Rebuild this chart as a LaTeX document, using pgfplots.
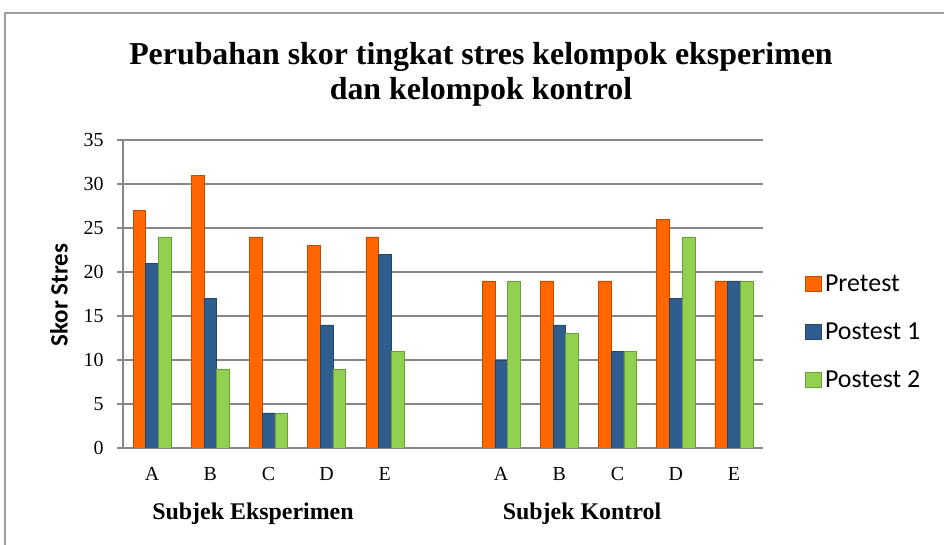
\documentclass[border=0pt]{standalone}
\usepackage{fontspec}
\setmainfont{Liberation Serif}
\newfontfamily\calibri{Carlito}
\usepackage{pgfplots}
\pgfplotsset{compat=1.18}
\definecolor{cOr}{HTML}{FF6600}
\definecolor{cBl}{HTML}{2F5D8E}
\definecolor{cGr}{HTML}{92D050}
\definecolor{gridc}{HTML}{878787}
\begin{document}
\begin{tikzpicture}[x=1bp,y=1bp]
\path[use as bounding box] (0,0) rectangle (944,545);
\draw[gridc!80, line width=1.5bp] (5,-5) -- (5,532) -- (950,532);
\node[font=\fontsize{32}{35}\selectfont\bfseries, anchor=base] at (481,480) {Perubahan skor tingkat stres kelompok eksperimen};
\node[font=\fontsize{32}{35}\selectfont\bfseries, anchor=base] at (481,445) {dan kelompok kontrol};
\node[font=\calibri\fontsize{25}{28}\selectfont\bfseries, rotate=90] at (59,250) {Skor Stres};
\node[font=\fontsize{24}{26}\selectfont\bfseries, anchor=base] at (253,25) {Subjek Eksperimen};
\node[font=\fontsize{24}{26}\selectfont\bfseries, anchor=base] at (582,25) {Subjek Kontrol};
\begin{axis}[
  at={(123bp,97bp)}, anchor=south west,
  scale only axis, width=640bp, height=308bp,
  xmin=-0.5, xmax=10.5, ymin=0, ymax=35,
  ytick={0,5,...,35},
  xtick={0,1,2,3,4,6,7,8,9,10},
  xticklabels={A,B,C,D,E,A,B,C,D,E},
  axis x line*=bottom, axis y line*=left,
  axis line style={draw=gridc, line width=1.4bp, -},
  ymajorgrids, grid style={draw=gridc, line width=1.4bp},
  tick align=outside, major tick length=6bp,
  ytick style={draw=gridc, line width=1.4bp},
  xtick style={draw=none},
  tick label style={font=\fontsize{20}{22}\selectfont},
  yticklabel style={xshift=-10bp},
  xticklabel style={yshift=-10bp},
  /pgf/number format/assume math mode=true,
  ybar=0pt, bar width=12.7bp,
  legend style={draw=none, fill=none, at={(1.06,0.377)}, anchor=west,
    font=\calibri\fontsize{26}{28}\selectfont, row sep=26bp,
    nodes={inner xsep=4bp}},
  legend cell align=left,
  legend image code/.code={\draw[#1] (0bp,-7.5bp) rectangle (16bp,7.5bp);},
]
\addplot[fill=cOr, draw=cOr!75!black, line width=0.5bp] coordinates {(0,27) (1,31) (2,24) (3,23) (4,24) (6,19) (7,19) (8,19) (9,26) (10,19)};
\addplot[fill=cBl, draw=cBl!75!black, line width=0.5bp] coordinates {(0,21) (1,17) (2,4) (3,14) (4,22) (6,10) (7,14) (8,11) (9,17) (10,19)};
\addplot[fill=cGr, draw=cGr!75!black, line width=0.5bp] coordinates {(0,24) (1,9) (2,4) (3,9) (4,11) (6,19) (7,13) (8,11) (9,24) (10,19)};
\legend{Pretest, Postest 1, Postest 2}
\end{axis}
\end{tikzpicture}
\end{document}
